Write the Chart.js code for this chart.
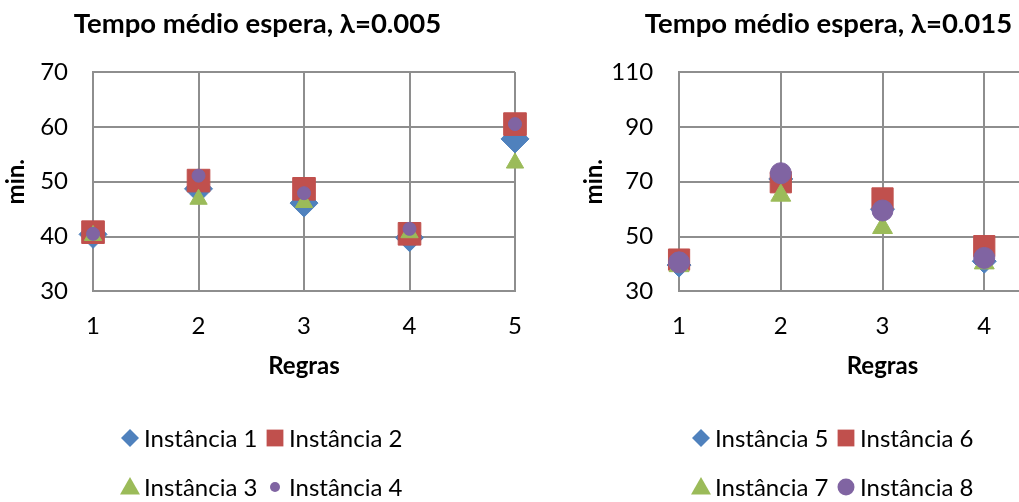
<!DOCTYPE html>
<html>
<head>
<meta charset="utf-8">
<script src="https://cdn.jsdelivr.net/npm/chart.js@4/dist/chart.umd.min.js"></script>
<style>
  html, body { margin: 0; padding: 0; background: #fff; overflow: hidden; width: 1019px; height: 502px; }
  .box { position: absolute; top: 0; }
</style>
</head>
<body>
<div class="box" style="left:-12px"><canvas id="chartA" width="544" height="502"></canvas></div>
<div class="box" style="left:560px"><canvas id="chartB" width="542" height="502"></canvas></div>
<script>
// regras (eixo x) e marcas do eixo y
const regras = [1, 2, 3, 4, 5];
const yTicksA = [30, 40, 50, 60, 70];
const yTicksB = [30, 50, 70, 90, 110];

// lambda = 0.005
const inst1 = [40.4, 48.7, 46.1, 39.8, 57.8];
const inst2 = [40.8, 50.2, 48.7, 40.5, 60.5];
const inst3 = [40.2, 46.8, 46.2, 40.7, 53.4];
const inst4 = [40.5, 51.1, 47.9, 41.4, 60.5];

// lambda = 0.015
const inst5 = [39.6, 71.0, 60.0, 41.0, 97.0];
const inst6 = [41.6, 69.8, 63.9, 46.5, 103.0];
const inst7 = [39.3, 65.0, 53.2, 40.3, 88.0];
const inst8 = [40.6, 73.1, 59.5, 42.2, 99.0];

const FONT = 'Lato, "Open Sans", sans-serif';
const GRID = '#8e8e8e';
const colors = ['#4F81BD', '#C0504D', '#9BBB59', '#8064A2'];
const styles = ['rectRot', 'rect', 'triangle', 'circle'];

function points(values) {
  return values.map((v, i) => ({ x: regras[i], y: v }));
}

function drawMarker(ctx, style, x, y, r) {
  ctx.beginPath();
  if (style === 'rectRot') {
    ctx.moveTo(x, y - r); ctx.lineTo(x + r, y); ctx.lineTo(x, y + r); ctx.lineTo(x - r, y);
  } else if (style === 'rect') {
    ctx.rect(x - r, y - r, 2 * r, 2 * r);
  } else if (style === 'triangle') {
    ctx.moveTo(x, y - r); ctx.lineTo(x + r, y + r * 0.75); ctx.lineTo(x - r, y + r * 0.75);
  } else {
    ctx.arc(x, y, r, 0, Math.PI * 2);
  }
  ctx.closePath();
  ctx.fill();
}

// legenda em duas linhas, duas entradas por linha
const legendRows = {
  id: 'legendRows',
  afterDraw(chart, args, opts) {
    const ctx = chart.ctx;
    ctx.save();
    ctx.font = '24px ' + FONT;
    ctx.textBaseline = 'middle';
    ctx.textAlign = 'left';
    chart.data.datasets.forEach((ds, i) => {
      const x = chart.width / 2 + opts.start + (i % 2) * opts.colGap;
      const y = opts.rows[Math.floor(i / 2)];
      ctx.fillStyle = ds.backgroundColor;
      drawMarker(ctx, ds.pointStyle, x, y, opts.radius[i]);
      ctx.fillStyle = '#000';
      ctx.fillText(ds.label, x + 14, y + 1);
    });
    ctx.restore();
  }
};

function makeChart(id, title, labels, series, yTicks, radius, legendRadius, yTick, yTitlePad) {
  return new Chart(document.getElementById(id), {
    type: 'scatter',
    data: {
      datasets: series.map((s, i) => ({
        label: labels[i],
        data: points(s),
        pointStyle: styles[i],
        pointRadius: radius[i],
        backgroundColor: colors[i],
        borderColor: colors[i],
        borderWidth: 1,
        clip: false,
        order: 4 - i
      }))
    },
    options: {
      responsive: false,
      animation: false,
      events: [],
      layout: { padding: { top: 0, left: 0, right: 5, bottom: 121 } },
      plugins: {
        legend: { display: false },
        tooltip: { enabled: false },
        title: {
          display: true,
          text: title,
          color: '#000',
          font: { family: FONT, size: 27.5, weight: 'bold' },
          padding: { top: 8, bottom: 31 }
        },
        legendRows: { start: -130, colGap: 145, rows: [438, 487], radius: legendRadius }
      },
      scales: {
        x: {
          type: 'linear',
          min: regras[0],
          max: regras[regras.length - 1],
          ticks: { stepSize: 1, padding: 0, color: '#000', font: { family: FONT, size: 24 } },
          grid: { color: GRID, lineWidth: 2, tickLength: 20, tickColor: 'rgba(0,0,0,0)' },
          border: { color: GRID, width: 2 },
          title: {
            display: true,
            text: 'Regras',
            color: '#000',
            font: { family: FONT, size: 24, weight: 'bold' },
            padding: { top: 12, bottom: 0 }
          }
        },
        y: {
          min: yTicks[0],
          max: yTicks[yTicks.length - 1],
          ticks: { stepSize: yTicks[1] - yTicks[0], padding: 0, color: '#000', font: { family: FONT, size: 24 } },
          grid: { color: GRID, lineWidth: 2, tickLength: yTick, tickColor: 'rgba(0,0,0,0)' },
          border: { color: GRID, width: 2 },
          title: {
            display: true,
            text: 'min.',
            color: '#000',
            font: { family: FONT, size: 24, weight: 'bold' },
            padding: yTitlePad
          }
        }
      }
    },
    plugins: [legendRows]
  });
}

makeChart('chartA', 'Tempo médio espera, λ=0.005',
  ['Instância 1', 'Instância 2', 'Instância 3', 'Instância 4'],
  [inst1, inst2, inst3, inst4], yTicksA,
  [14, 16, 10, 6.5], [9, 8.4, 10, 5], 25, { top: 13.6, bottom: 9.8 });

makeChart('chartB', 'Tempo médio espera, λ=0.015',
  ['Instância 5', 'Instância 6', 'Instância 7', 'Instância 8'],
  [inst5, inst6, inst7, inst8], yTicksB,
  [12, 15, 11.5, 10.5], [9, 8.4, 10, 8.5], 26, { top: 19.6, bottom: 2.9 });
</script>
</body>
</html>
